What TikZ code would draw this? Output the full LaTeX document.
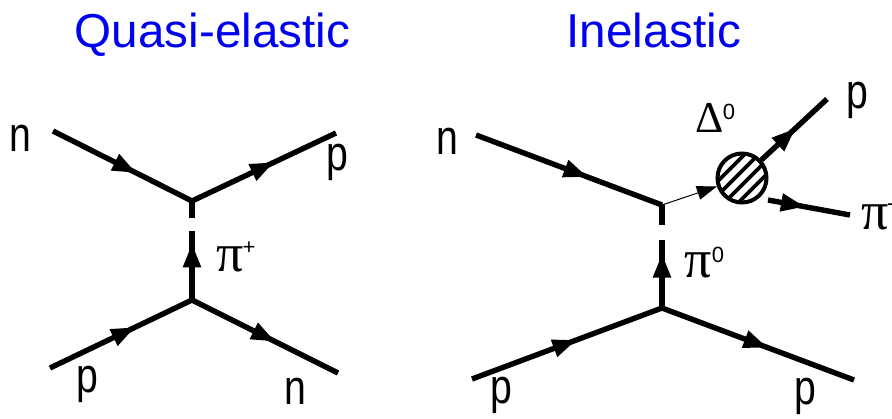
\documentclass[tikz,border=0pt]{standalone}
\usepackage{fontspec}
\setmainfont{Liberation Sans}
\newfontfamily\greekfont{Liberation Serif}
\usetikzlibrary{arrows.meta,decorations.markings}
\definecolor{titleblue}{HTML}{0000F0}
\tikzset{
  line/.style={line width=5.4pt},
  fermion/.style={line width=5.4pt,postaction={decorate},decoration={markings,
    mark=at position #1 with {\arrow{Triangle[length=24pt,width=17pt]}}}},
  fermion/.default=0.55,
  title/.style={text=titleblue,anchor=base,font=\fontsize{47.6}{50}\selectfont},
  letter/.style={xscale=0.8,font=\fontsize{49}{50}\selectfont},
  meson/.style={anchor=base west,inner sep=0pt,font=\fontsize{54}{56}\greekfont},
  upper/.style={inner sep=0pt,font=\fontsize{22}{24}\selectfont},
}
\begin{document}
\begin{tikzpicture}[x=1pt,y=-1pt]
\useasboundingbox (0,0) rectangle (892,418);
% titles
\node[title] (qetitle) at (212.5,47) {Quasi-elastic};
\node[title] (intitle) at (654,47) {Inelastic};
% quasi-elastic
\coordinate (qnin) at (53,131);
\coordinate (qtop) at (192,201);
\coordinate (qpout) at (336,133);
\coordinate (qbot) at (192,300);
\coordinate (qpin) at (50,368);
\coordinate (qnout) at (338,373);
\coordinate (qgapa) at (192,218);
\coordinate (qgapb) at (192,231);
\draw[fermion=0.6] (qnin) -- (qtop);
\draw[fermion=0.57] (qtop) -- (qpout);
\draw[fermion=0.6] (qpin) -- (qbot);
\draw[fermion=0.57] (qbot) -- (qnout);
\draw[line] (qtop) -- (qgapa);
\draw[fermion=0.82] (qbot) -- (qgapb);
\node[letter] (qn1) at (20,138) {n};
\node[letter] (qp1) at (337,162) {p};
\node[letter] (qp2) at (87,384) {p};
\node[letter] (qn2) at (295,391) {n};
\node[meson] (qpi) at (216,271) {π};
\node[upper] (qplus) at (249,248) {+};
% inelastic
\coordinate (inin) at (476,135);
\coordinate (itop) at (662,205);
\coordinate (ibot) at (662,308);
\coordinate (ipin) at (472,379);
\coordinate (ipout) at (854,380);
\coordinate (igapa) at (662,225);
\coordinate (igapb) at (662,240);
\coordinate (idecp) at (827,99);
\coordinate (idecs) at (768,200);
\coordinate (idece) at (850,215);
\node[circle,draw,line width=4pt,fill=white,minimum size=49pt,inner sep=0pt,
  path picture={\foreach \d in {-10.5,-3.5,3.5,10.5}
    {\draw[line width=3.6pt] ([shift={(-40+\d,40+\d)}]path picture bounding box.center)
      -- ([shift={(40+\d,-40+\d)}]path picture bounding box.center);}}]
  (blob) at (742,178) {};
\draw[fermion=0.6] (inin) -- (itop);
\draw[line] (itop) -- (igapa);
\draw[fermion=0.55] (ipin) -- (ibot);
\draw[fermion=0.55] (ibot) -- (ipout);
\draw[fermion=0.8] (ibot) -- (igapb);
\draw[line width=1pt,-{Triangle[length=20pt,width=14pt]}] (itop) -- (blob);
\draw[fermion=0.52] (blob) -- (idecp);
\draw[fermion=0.45] (idecs) -- (idece);
\node[letter] (in1) at (447,141) {n};
\node[letter] (ip1) at (857,100) {p};
\node[letter] (ip2) at (501,395) {p};
\node[letter] (ip3) at (805,396) {p};
\node[meson,font=\fontsize{44}{46}\greekfont] (idelta) at (695,132) {Δ};
\node[upper] (idup) at (729,112) {0};
\node[meson] (ipi1) at (684,277) {π};
\node[upper] (ipiup) at (718,255) {0};
\node[meson] (ipi2) at (861,229) {π};
\node[upper,anchor=west] (ipiminus) at (887,207) {-};
\end{tikzpicture}
\end{document}
